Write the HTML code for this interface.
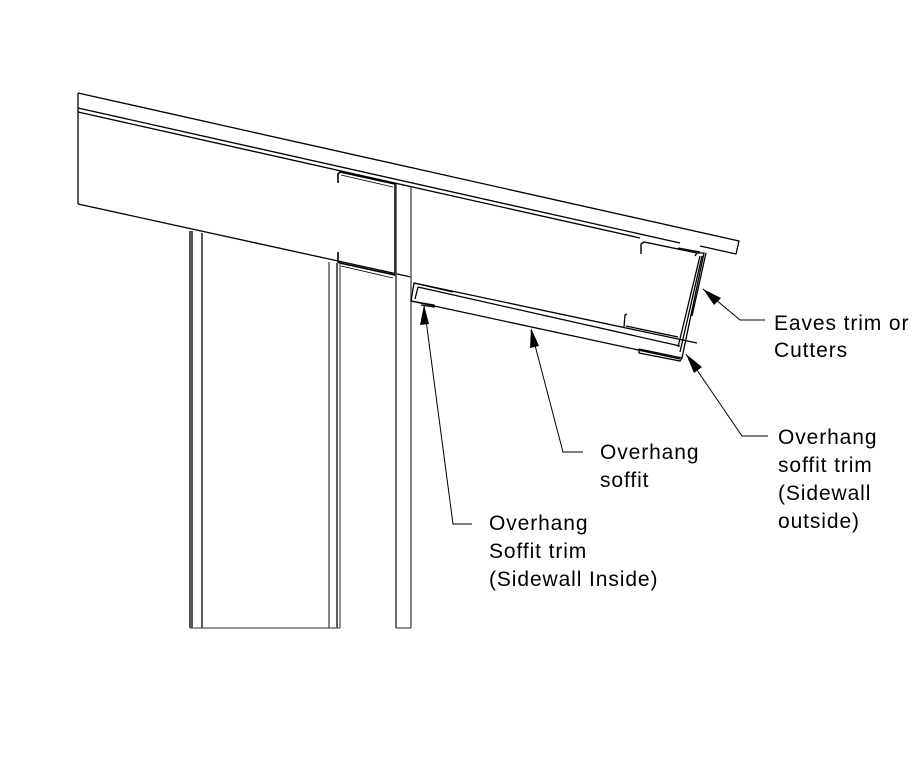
<!DOCTYPE html>
<html><head><meta charset="utf-8"><style>
html,body{margin:0;padding:0;background:#fff;}
svg{display:block;}
text{font-family:"Liberation Sans",Arial,sans-serif;font-size:21px;letter-spacing:0.9px;fill:#000;}
</style></head><body>
<svg width="921" height="780" viewBox="0 0 921 780" xmlns="http://www.w3.org/2000/svg">
<g fill="none" stroke="#000" stroke-width="1.3" stroke-linejoin="miter">
<polyline points="78,93 739,241 736,254 700,246"/>
<line x1="78" y1="108" x2="680" y2="243"/>
<line x1="78" y1="112" x2="640" y2="238"/>
<line x1="78" y1="93" x2="78" y2="204"/>
<line x1="78" y1="204" x2="411" y2="277"/>
<polyline points="338,183 338,174 340,172 395,184 395,275 340,263 338,262 338,252" stroke-width="1.6"/>
<line x1="341" y1="175" x2="393" y2="187" stroke-width="0.8"/>
<line x1="341" y1="266" x2="393" y2="278" stroke-width="0.8"/>
<line x1="190" y1="231" x2="190" y2="628" stroke="#555" stroke-width="2"/>
<line x1="192" y1="231" x2="192" y2="628"/>
<line x1="202" y1="233" x2="202" y2="628"/>
<line x1="329" y1="262" x2="329" y2="628" stroke="#777" stroke-width="1.8"/>
<line x1="337" y1="263" x2="337" y2="628"/>
<line x1="340" y1="264" x2="340" y2="628" stroke="#555"/>
<line x1="190" y1="628" x2="340" y2="628" stroke="#555"/>
<line x1="396" y1="184" x2="396" y2="628" stroke="#444" stroke-width="1.6"/>
<line x1="411" y1="187" x2="411" y2="628" stroke="#666" stroke-width="1.6"/>
<line x1="396" y1="628" x2="411" y2="628" stroke="#555"/>
<polyline points="641,254 641,244 644,242 697,253 695,256" stroke-width="1.4"/>
<line x1="678" y1="248" x2="700" y2="252"/>
<polyline points="453,292 414,283 411,301 422,303"/>
<line x1="418" y1="287" x2="415" y2="299"/>
<line x1="414" y1="283" x2="697" y2="343"/>
<line x1="418" y1="287" x2="680" y2="346"/>
<line x1="411" y1="301" x2="680" y2="359"/>
<polyline points="422,303 434,305 434,307 421,305"/>
<polyline points="624,327 625,315 627,314"/>
<line x1="626" y1="326" x2="678" y2="337"/>
<polyline points="697,253 704,253 682,358 639,349"/>
<line x1="700" y1="256" x2="678" y2="347"/>
<line x1="702" y1="256" x2="680" y2="352"/>
<line x1="706" y1="253" x2="692" y2="316"/>
<polyline points="639,349 639,353 680,361 682,358"/>
<g stroke-width="1">
<polyline points="703,289 740,320 765,320"/>
<polyline points="686,354 742,436 768,436"/>
<polyline points="531,330 563,452 583,452"/>
<polyline points="424,305 453,524 472,524"/>
</g>
</g>
<g fill="#000">
<polygon points="703,289 721,298 714,305"/>
<polygon points="686,354 702,367 694,373"/>
<polygon points="531,328 539,346 530,348"/>
<polygon points="424,305 429,324 420,325"/>
</g>
<text x="774" y="330">Eaves trim or</text>
<text x="774" y="357">Cutters</text>
<text x="778" y="444">Overhang</text>
<text x="778" y="472">soffit trim</text>
<text x="778" y="500">(Sidewall</text>
<text x="778" y="528">outside)</text>
<text x="600" y="459">Overhang</text>
<text x="600" y="487">soffit</text>
<text x="489" y="530">Overhang</text>
<text x="489" y="558">Soffit trim</text>
<text x="489" y="586">(Sidewall Inside)</text>
</svg>
</body></html>
